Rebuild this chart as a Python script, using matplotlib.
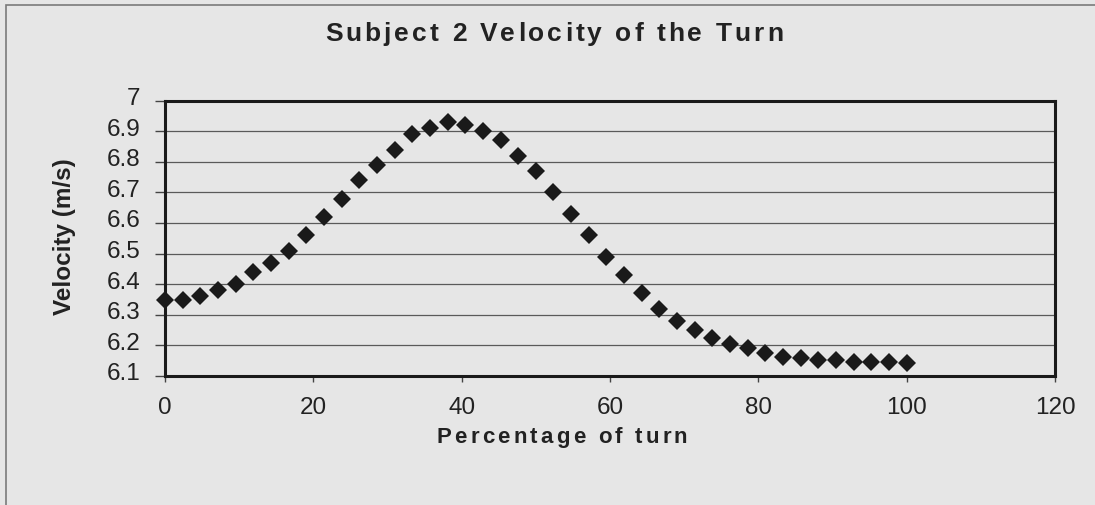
import matplotlib
matplotlib.use("Agg")
import matplotlib.pyplot as plt
from matplotlib.font_manager import FontProperties, findfont, get_font
from matplotlib.patches import Rectangle
from matplotlib.transforms import ScaledTranslation

# Percentage of the turn (43 samples from 0 to 100 %)
percent = [0, 2.38, 4.76, 7.14, 9.52, 11.9, 14.29, 16.67, 19.05, 21.43,
           23.81, 26.19, 28.57, 30.95, 33.33, 35.71, 38.1, 40.48, 42.86,
           45.24, 47.62, 50, 52.38, 54.76, 57.14, 59.52, 61.9, 64.29, 66.67,
           69.05, 71.43, 73.81, 76.19, 78.57, 80.95, 83.33, 85.71, 88.1,
           90.48, 92.86, 95.24, 97.62, 100]

# Velocity (m/s)
velocity = [6.35, 6.35, 6.36, 6.38, 6.40, 6.44, 6.47, 6.51, 6.56, 6.62,
            6.68, 6.74, 6.79, 6.84, 6.89, 6.91, 6.93, 6.92, 6.90, 6.87,
            6.82, 6.77, 6.70, 6.63, 6.56, 6.49, 6.43, 6.37, 6.32, 6.28,
            6.25, 6.225, 6.205, 6.19, 6.176, 6.163, 6.158, 6.152, 6.152,
            6.145, 6.145, 6.145, 6.144]

x_ticks = [0, 20, 40, 60, 80, 100, 120]
y_ticks = [6.1, 6.2, 6.3, 6.4, 6.5, 6.6, 6.7, 6.8, 6.9, 7.0]
y_tick_labels = ["6.1", "6.2", "6.3", "6.4", "6.5", "6.6", "6.7", "6.8", "6.9", "7"]

TITLE = "Subject 2 Velocity of the Turn"
XLABEL = "Percentage of turn"
YLABEL = "Velocity (m/s)"

W, H, DPI = 1095, 505, 100
BG = "#e6e6e6"
INK = "#1a1a1a"
FAMILY = "Liberation Sans"

fig = plt.figure(figsize=(W / DPI, H / DPI), dpi=DPI, facecolor=BG)

# outer chart border
fig.patches.append(Rectangle((6 / W, -0.02), 1.2, (H - 5) / H + 0.02,
                             transform=fig.transFigure, fill=False,
                             edgecolor="#7a7a7a", linewidth=1.2))

ax = fig.add_axes([165 / W, 1 - 376 / H, (1055 - 165) / W, (376 - 100.7) / H])
ax.set_facecolor(BG)

ax.plot(percent, velocity, linestyle="none", marker="D", markersize=9,
        color=INK, markeredgewidth=0, zorder=3, clip_on=False)

ax.set_xlim(0, 120)
ax.set_ylim(6.1, 7.0)
ax.set_xticks(x_ticks)
ax.set_yticks(y_ticks)
ax.set_yticklabels(y_tick_labels)
ax.grid(axis="y", color="#5a5a5a", linewidth=0.9)
ax.set_axisbelow(True)

for sp in ax.spines.values():
    sp.set_linewidth(2.2)
    sp.set_color(INK)

ax.tick_params(axis="x", direction="out", length=4, width=1, color="#444444",
               pad=11, labelsize=17.5, labelcolor="#222222")
ax.tick_params(axis="y", direction="out", length=7, width=1, color="#444444",
               pad=10.5, labelsize=17.5, labelcolor="#222222")
for lab in ax.get_xticklabels() + ax.get_yticklabels():
    lab.set_fontfamily(FAMILY)
shift = ScaledTranslation(0, 3 / 72, fig.dpi_scale_trans)
for lab in ax.get_yticklabels():
    lab.set_transform(lab.get_transform() + shift)


def spaced_text(x_px, y_px, text, size, width_px, weight="bold"):
    """Draw text centred at x_px with a baseline at y_px, spreading
    its letters so the line spans width_px pixels."""
    fp = FontProperties(family=FAMILY, weight=weight, size=size)
    font = get_font(findfont(fp))
    font.set_size(size, DPI)
    adv = [font.load_char(ord(c)).linearHoriAdvance / 65536 for c in text]
    gap = (width_px - sum(adv)) / (len(text) - 1)
    pos = x_px - width_px / 2
    for c, a in zip(text, adv):
        if c != " ":
            fig.text(pos / W, 1 - y_px / H, c, fontproperties=fp,
                     ha="left", va="baseline", color="#222222")
        pos += a + gap


spaced_text(554, 41, TITLE, 19, 458)
spaced_text(562, 443, XLABEL, 16, 251)

fig.text(65 / W, 1 - 237 / H, YLABEL, rotation=90, ha="center", va="center",
         fontfamily=FAMILY, fontweight="bold", fontsize=17.5, color="#222222")

fig.savefig("out.png", dpi=DPI, facecolor=BG)
